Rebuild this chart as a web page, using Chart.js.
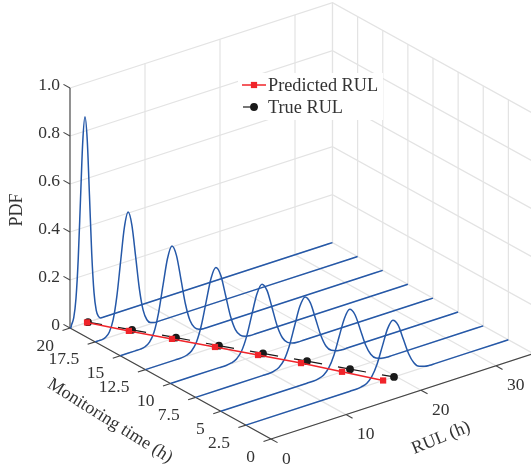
<!DOCTYPE html>
<html>
<head>
<meta charset="utf-8">
<script src="https://cdn.jsdelivr.net/npm/chart.js@4"></script>
<style>
  html, body { margin: 0; padding: 0; background: #fff; }
  canvas { display: block; }
</style>
</head>
<body>
<canvas id="waterfall" width="531" height="476"></canvas>
<script>
// values
const monitoringTimes = [20, 17.5, 15, 12.5, 10, 7.5, 5, 2.5];
const rulSamples = [
  [0, 0.06, 0.12, 0.2, 0.5, 0.8, 1.1, 1.4, 1.7, 2, 2.3, 2.6, 2.9, 3.2, 3.5, 3.8, 4.1, 4.4, 34, 35],
  [0, 0.5, 1, 1.4, 1.9, 2.4, 2.9, 3.4, 3.9, 4.4, 4.9, 5.4, 5.9, 6.4, 6.9, 7.4, 7.9, 8.4, 34, 35],
  [0, 2, 2.7, 3.3, 3.9, 4.5, 5.1, 5.7, 6.3, 6.9, 7.5, 8.1, 8.7, 9.3, 9.9, 10.5, 11.1, 11.7, 34, 35],
  [0, 4, 4.8, 5.5, 6.15, 6.8, 7.45, 8.1, 8.75, 9.4, 10.05, 10.7, 11.35, 12, 12.65, 13.3, 14, 14.7, 34, 35],
  [0, 6.5, 7.4, 8.12, 8.8, 9.48, 10.16, 10.84, 11.52, 12.2, 12.88, 13.56, 14.24, 14.92, 15.6, 16.28, 17, 17.7, 34, 35],
  [0, 8.9, 9.7, 10.4, 11.1, 11.8, 12.5, 13.2, 13.9, 14.6, 15.3, 16, 16.7, 17.4, 18.1, 18.8, 19.5, 20.2, 34, 35],
  [0, 11.5, 12.3, 13, 13.7, 14.4, 15.1, 15.8, 16.5, 17.2, 17.9, 18.6, 19.3, 20, 20.7, 21.4, 22.1, 22.8, 34, 35],
  [0, 13.9, 14.7, 15.4, 16.1, 16.8, 17.5, 18.2, 18.9, 19.6, 20.3, 21, 21.7, 22.4, 23.1, 23.8, 24.5, 25.2, 34, 35],
];
const pdfSamples = [
  [0, 0, 0, 0.01, 0.038, 0.116, 0.279, 0.522, 0.759, 0.86, 0.759, 0.522, 0.279, 0.116, 0.038, 0.01, 0, 0, 0, 0],
  [0, 0, 0, 0.005, 0.022, 0.067, 0.161, 0.301, 0.437, 0.496, 0.437, 0.301, 0.161, 0.067, 0.022, 0.005, 0, 0, 0, 0],
  [0, 0, 0, 0.004, 0.017, 0.052, 0.126, 0.235, 0.341, 0.387, 0.341, 0.235, 0.126, 0.052, 0.017, 0.004, 0, 0, 0, 0],
  [0, 0, 0, 0.004, 0.015, 0.045, 0.107, 0.2, 0.291, 0.33, 0.291, 0.2, 0.107, 0.045, 0.015, 0.004, 0, 0, 0, 0],
  [0, 0, 0, 0.003, 0.013, 0.039, 0.094, 0.176, 0.256, 0.29, 0.256, 0.176, 0.094, 0.039, 0.013, 0.003, 0, 0, 0, 0],
  [0, 0, 0, 0.003, 0.012, 0.036, 0.088, 0.164, 0.238, 0.27, 0.238, 0.164, 0.088, 0.036, 0.012, 0.003, 0, 0, 0, 0],
  [0, 0, 0, 0.003, 0.011, 0.034, 0.081, 0.152, 0.22, 0.25, 0.22, 0.152, 0.081, 0.034, 0.011, 0.003, 0, 0, 0, 0],
  [0, 0, 0, 0.003, 0.01, 0.032, 0.077, 0.144, 0.21, 0.238, 0.21, 0.144, 0.077, 0.032, 0.01, 0.003, 0, 0, 0, 0],
];
const predictedRul = [2.27, 4.5, 6.9, 9.28, 11.67, 14.05, 16.17, 18.3];
const trueRul = [2.4, 4.92, 7.43, 9.81, 12.33, 14.85, 17.24, 19.75];

const pdfTicks = [0, 0.2, 0.4, 0.6, 0.8, 1];
const pdfTickLabels = ["0", "0.2", "0.4", "0.6", "0.8", "1.0"];
const timeTicks = [20, 17.5, 15, 12.5, 10, 7.5, 5, 2.5, 0];
const timeTickLabels = ["20", "17.5", "15", "12.5", "10", "7.5", "5", "2.5", "0"];
const rulTicks = [0, 10, 20, 30];
const rulTickLabels = ["0", "10", "20", "30"];
const RUL_MAX = 35;
const TIME_MAX = 20;

// fixed 3d view, same angle as the original axes box
function project(rul, time, pdf) {
  return {
    x: 271 + 7.5 * rul - 10.05 * time,
    y: 439 - 2.44 * rul - 5.55 * time - 240 * pdf,
  };
}

const datasets = [];
function addLine(points, style) {
  datasets.push({
    data: points,
    showLine: true,
    pointRadius: 0,
    borderWidth: 1,
    order: -datasets.length,
    ...style,
  });
}

// grid on the two walls and the floor
const gridStyle = { borderColor: "#e3e3e3", borderWidth: 1.2 };
pdfTicks.forEach((z) => {
  addLine([project(0, TIME_MAX, z), project(RUL_MAX, TIME_MAX, z), project(RUL_MAX, 0, z)], gridStyle);
});
rulTicks.forEach((r) => {
  addLine([project(r, 0, 0), project(r, TIME_MAX, 0), project(r, TIME_MAX, 1)], gridStyle);
});
timeTicks.forEach((t) => {
  addLine([project(0, t, 0), project(RUL_MAX, t, 0), project(RUL_MAX, t, 1)], gridStyle);
});
addLine([project(RUL_MAX, TIME_MAX, 0), project(RUL_MAX, TIME_MAX, 1)], gridStyle);

// axes and tick marks
const axisStyle = { borderColor: "#444444", borderWidth: 1.1 };
addLine([project(0, TIME_MAX, 0), project(0, TIME_MAX, 1)], { borderColor: "#7a7a7a", borderWidth: 1.6 });
addLine([project(0, TIME_MAX, 0), project(0, 0, 0)], axisStyle);
addLine([project(0, 0, 0), project(RUL_MAX, 0, 0)], axisStyle);
pdfTicks.forEach((z) => {
  addLine([project(0, TIME_MAX, z), project(0, TIME_MAX + 0.65, z)], axisStyle);
});
timeTicks.forEach((t) => {
  addLine([project(0, t, 0), project(-1, t, 0)], axisStyle);
});
rulTicks.forEach((r) => {
  addLine([project(r, 0, 0), project(r, -0.65, 0)], axisStyle);
});

// pdf curves
monitoringTimes.forEach((t, i) => {
  addLine(
    rulSamples[i].map((r, k) => project(r, t, pdfSamples[i][k])),
    { borderColor: "#2558a8", borderWidth: 1.5, cubicInterpolationMode: "monotone" }
  );
});

// true RUL goes under predicted RUL
const trueIdx = datasets.length;
addLine(
  monitoringTimes.map((t, i) => project(trueRul[i], t, 0)),
  {
    label: "True RUL",
    borderColor: "#1a1a1a",
    borderWidth: 1.2,
    borderDash: [28.5, 16.2],
    borderDashOffset: 14.25,
    pointRadius: 3.9,
    pointStyle: "circle",
    pointBackgroundColor: "#1a1a1a",
    pointBorderWidth: 0,
  }
);
const predictedIdx = datasets.length;
addLine(
  monitoringTimes.map((t, i) => project(predictedRul[i], t, 0)),
  {
    label: "Predicted RUL",
    borderColor: "#f0242a",
    borderWidth: 1.5,
    pointRadius: 4.4,
    pointStyle: "rect",
    pointBackgroundColor: "#f0242a",
    pointBorderWidth: 0,
  }
);

const TICK_FONT = '17.5px "Liberation Serif"';
const TITLE_FONT = '18px "Liberation Serif"';
const TEXT_COLOR = "#333333";

function drawText(ctx, text, x, y, align, font, angle) {
  ctx.save();
  ctx.translate(x, y);
  ctx.rotate(((angle || 0) * Math.PI) / 180);
  ctx.font = font;
  ctx.fillStyle = TEXT_COLOR;
  ctx.textAlign = align;
  ctx.textBaseline = "middle";
  ctx.fillText(text, 0, 0);
  ctx.restore();
}

const labelsPlugin = {
  id: "labels3d",
  afterDatasetsDraw(chart) {
    const ctx = chart.ctx;
    const xs = chart.scales.x;
    const ys = chart.scales.y;

    pdfTicks.forEach((z, i) => {
      const p = project(0, TIME_MAX, z);
      drawText(ctx, pdfTickLabels[i], xs.getPixelForValue(p.x) - 10, ys.getPixelForValue(p.y) - 3, "right", TICK_FONT);
    });
    timeTicks.forEach((t, i) => {
      const p = project(0, t, 0);
      drawText(ctx, timeTickLabels[i], xs.getPixelForValue(p.x) - 16, ys.getPixelForValue(p.y) + 18, "right", TICK_FONT);
    });
    rulTicks.forEach((r, i) => {
      const p = project(r, 0, 0);
      drawText(ctx, rulTickLabels[i], xs.getPixelForValue(p.x) + 11, ys.getPixelForValue(p.y) + 20, "left", TICK_FONT);
    });

    drawText(ctx, "PDF", 17, 210, "center", TITLE_FONT, -90);
    drawText(ctx, "Monitoring time (h)", 110, 421, "center", TITLE_FONT, 32);
    drawText(ctx, "RUL (h)", 441, 438, "center", TITLE_FONT, -22);

    // legend box
    ctx.save();
    ctx.fillStyle = "#ffffff";
    ctx.fillRect(238, 73, 145, 47);
    const red = datasets[predictedIdx];
    const black = datasets[trueIdx];
    ctx.strokeStyle = red.borderColor;
    ctx.lineWidth = 1.5;
    ctx.beginPath();
    ctx.moveTo(242, 85);
    ctx.lineTo(266, 85);
    ctx.stroke();
    ctx.strokeStyle = black.borderColor;
    ctx.lineWidth = 1.2;
    ctx.beginPath();
    ctx.moveTo(243, 107);
    ctx.lineTo(258, 107);
    ctx.stroke();
    ctx.fillStyle = red.pointBackgroundColor;
    Chart.helpers.drawPoint(ctx, { pointStyle: "rect", radius: 4.4, borderWidth: 0 }, 254, 85);
    ctx.fillStyle = black.pointBackgroundColor;
    Chart.helpers.drawPoint(ctx, { pointStyle: "circle", radius: 3.9, borderWidth: 0 }, 254, 107);
    ctx.restore();
    drawText(ctx, red.label, 268, 86, "left", '18.3px "Liberation Serif"');
    drawText(ctx, black.label, 268, 108, "left", '18.3px "Liberation Serif"');
  },
};

new Chart(document.getElementById("waterfall"), {
  type: "scatter",
  data: { datasets: datasets },
  options: {
    responsive: false,
    animation: false,
    layout: { padding: 0, autoPadding: false },
    plugins: { legend: { display: false }, tooltip: { enabled: false } },
    scales: {
      x: { type: "linear", min: 0, max: 531, display: false },
      y: { type: "linear", min: 0, max: 476, reverse: true, display: false },
    },
  },
  plugins: [labelsPlugin],
});
</script>
</body>
</html>
